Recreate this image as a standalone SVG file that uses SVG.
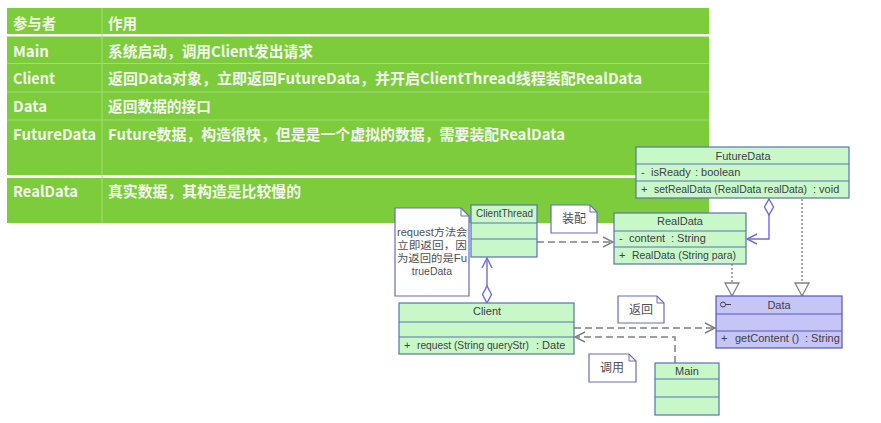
<svg xmlns="http://www.w3.org/2000/svg" width="881" height="423" viewBox="0 0 881 423">
<style>
.th{font-family:"Noto Sans CJK SC","Noto Sans",sans-serif;font-weight:bold;font-size:15px;fill:#f3f7ee}
.cls{fill:#c8f8c8;stroke:#5a72b0;stroke-width:1.2}
.ifc{fill:#c6c6f6;stroke:#5656c0;stroke-width:1.2}
.sep{stroke:#5a72b0;stroke-width:1.2}
.sepi{stroke:#5656c0;stroke-width:1.2}
.u{font-family:"Liberation Sans",Arial,sans-serif;font-size:11px;fill:#404048}
.n{font-family:"Noto Sans CJK SC","Liberation Sans",sans-serif;font-size:12px;fill:#505058}
.ns{font-family:"Liberation Sans","Noto Sans CJK SC",sans-serif;font-size:10.5px;fill:#505058}
.note{fill:#ffffff;stroke:#6a6ac0;stroke-width:1.2}
.dash{fill:none;stroke:#808080;stroke-width:1.5;stroke-dasharray:7 4}
.dot{fill:none;stroke:#808080;stroke-width:1.3;stroke-dasharray:2 2}
.agg{fill:none;stroke:#7468e0;stroke-width:1.4}
</style>
<defs>
<marker id="openG" viewBox="0 0 12 12" refX="11" refY="6" markerWidth="12" markerHeight="12" markerUnits="userSpaceOnUse" orient="auto">
<path d="M1,1 L11,6 L1,11" fill="none" stroke="#808080" stroke-width="1.4"/>
</marker>
<marker id="openP" viewBox="0 0 12 12" refX="11" refY="6" markerWidth="12" markerHeight="12" markerUnits="userSpaceOnUse" orient="auto">
<path d="M1,1 L11,6 L1,11" fill="none" stroke="#7468e0" stroke-width="1.4"/>
</marker>
</defs>
<rect width="881" height="423" fill="#ffffff"/>
<g id="table">
<rect x="7" y="8" width="702" height="215" fill="#7ccc3c"/>
<rect x="7" y="34" width="702" height="2.5" fill="#ffffff"/>
<rect x="7" y="175" width="702" height="3" fill="#ffffff"/>
<line x1="7" y1="63.5" x2="709" y2="63.5" stroke="#a4dc7a" stroke-width="1"/>
<line x1="7" y1="92" x2="709" y2="92" stroke="#a4dc7a" stroke-width="1"/>
<line x1="7" y1="120" x2="709" y2="120" stroke="#a4dc7a" stroke-width="1"/>
<line x1="102" y1="8" x2="102" y2="223" stroke="#a4dc7a" stroke-width="1"/>
<text class="th" x="13" y="29" textLength="43" lengthAdjust="spacingAndGlyphs">参与者</text>
<text class="th" x="108" y="29" textLength="29" lengthAdjust="spacingAndGlyphs">作用</text>
<text class="th" x="13" y="57" textLength="36" lengthAdjust="spacingAndGlyphs">Main</text>
<text class="th" x="108" y="57" textLength="205" lengthAdjust="spacingAndGlyphs">系统启动，调用Client发出请求</text>
<text class="th" x="13" y="84" textLength="42" lengthAdjust="spacingAndGlyphs">Client</text>
<text class="th" x="108" y="84" textLength="534" lengthAdjust="spacingAndGlyphs">返回Data对象，立即返回FutureData，并开启ClientThread线程装配RealData</text>
<text class="th" x="13" y="112" textLength="34" lengthAdjust="spacingAndGlyphs">Data</text>
<text class="th" x="108" y="112" textLength="103" lengthAdjust="spacingAndGlyphs">返回数据的接口</text>
<text class="th" x="13" y="140" textLength="83" lengthAdjust="spacingAndGlyphs">FutureData</text>
<text class="th" x="108" y="140" textLength="457" lengthAdjust="spacingAndGlyphs">Future数据，构造很快，但是是一个虚拟的数据，需要装配RealData</text>
<text class="th" x="13" y="197" textLength="65" lengthAdjust="spacingAndGlyphs">RealData</text>
<text class="th" x="108" y="197" textLength="193" lengthAdjust="spacingAndGlyphs">真实数据，其构造是比较慢的</text>
</g>
<g id="connectors">
<path class="dash" d="M537,242 H613" marker-end="url(#openG)"/>
<path class="dash" d="M574,328 H715" marker-end="url(#openG)"/>
<path class="dash" d="M675,363 V337 H575" marker-end="url(#openG)"/>
<path class="dot" d="M732,264 V283"/>
<path d="M725,283 L739,283 L732,296 Z" fill="#ffffff" stroke="#808080" stroke-width="1.3"/>
<path class="dot" d="M802,199 V283"/>
<path d="M795,283 L809,283 L802,296 Z" fill="#ffffff" stroke="#808080" stroke-width="1.3"/>
<path d="M769,199 L773.5,207 L769,215 L764.5,207 Z" fill="#ffffff" stroke="#7468e0" stroke-width="1.4"/>
<path class="agg" d="M769,215 V239 H747" marker-end="url(#openP)"/>
<path d="M487,303 L491.5,294.5 L487,286 L482.5,294.5 Z" fill="#ffffff" stroke="#7468e0" stroke-width="1.4"/>
<path class="agg" d="M487,286 V258" marker-end="url(#openP)"/>
</g>
<g id="FutureData">
<rect class="cls" x="636" y="147" width="213" height="51"/>
<line class="sep" x1="636" y1="164" x2="849" y2="164"/>
<line class="sep" x1="636" y1="181" x2="849" y2="181"/>
<text class="u" x="743" y="160" text-anchor="middle">FutureData</text>
<text class="u" x="641" y="176">-</text>
<text class="u" x="651" y="176">isReady</text>
<text class="u" x="695" y="176">: boolean</text>
<text class="u" x="641" y="193">+</text>
<text class="u" x="654" y="193" textLength="153" lengthAdjust="spacingAndGlyphs">setRealData (RealData realData)</text>
<text class="u" x="813" y="193">: void</text>
</g>
<g id="RealData">
<rect class="cls" x="614" y="213" width="132" height="51"/>
<line class="sep" x1="614" y1="231" x2="746" y2="231"/>
<line class="sep" x1="614" y1="247" x2="746" y2="247"/>
<text class="u" x="680" y="225" text-anchor="middle">RealData</text>
<text class="u" x="619" y="242">-</text>
<text class="u" x="629" y="242">content</text>
<text class="u" x="671" y="242">: String</text>
<text class="u" x="619" y="259">+</text>
<text class="u" x="632" y="259" textLength="104" lengthAdjust="spacingAndGlyphs">RealData (String para)</text>
</g>
<g id="Data">
<rect class="ifc" x="716" y="296" width="126" height="52"/>
<line class="sepi" x1="716" y1="314" x2="842" y2="314"/>
<line class="sepi" x1="716" y1="331" x2="842" y2="331"/>
<circle cx="723" cy="304.5" r="2.5" fill="none" stroke="#404048" stroke-width="1"/>
<line x1="725.5" y1="304.5" x2="731" y2="304.5" stroke="#404048" stroke-width="1"/>
<text class="u" x="779" y="309" text-anchor="middle">Data</text>
<text class="u" x="721" y="342">+</text>
<text class="u" x="735" y="342">getContent ()</text>
<text class="u" x="805" y="342">: String</text>
</g>
<g id="ClientThread">
<rect class="cls" x="471" y="205" width="66" height="52"/>
<line class="sep" x1="471" y1="223" x2="537" y2="223"/>
<line class="sep" x1="471" y1="239" x2="537" y2="239"/>
<text class="u" x="476" y="217" textLength="57" lengthAdjust="spacingAndGlyphs">ClientThread</text>
</g>
<g id="Client">
<rect class="cls" x="399" y="303" width="175" height="51"/>
<line class="sep" x1="399" y1="322" x2="574" y2="322"/>
<line class="sep" x1="399" y1="337" x2="574" y2="337"/>
<text class="u" x="487" y="315" text-anchor="middle">Client</text>
<text class="u" x="404" y="349">+</text>
<text class="u" x="417" y="349" textLength="112" lengthAdjust="spacingAndGlyphs">request (String queryStr)</text>
<text class="u" x="536" y="349">: Date</text>
</g>
<g id="Main">
<rect class="cls" x="655" y="363" width="64" height="52"/>
<line class="sep" x1="655" y1="379" x2="719" y2="379"/>
<line class="sep" x1="655" y1="397" x2="719" y2="397"/>
<text class="u" x="687" y="375" text-anchor="middle">Main</text>
</g>
<g id="note-request">
<path class="note" d="M395,208 H461 L469,216 V296 H395 Z"/>
<path d="M461,208 V216 H469" fill="none" stroke="#6a6ac0" stroke-width="1"/>
<text class="ns" x="397" y="236" textLength="70" lengthAdjust="spacingAndGlyphs">request方法会</text>
<text class="ns" x="397" y="249" textLength="70" lengthAdjust="spacingAndGlyphs">立即返回，因</text>
<text class="ns" x="397" y="262" textLength="70" lengthAdjust="spacingAndGlyphs">为返回的是Fu</text>
<text class="ns" x="432" y="275" text-anchor="middle">trueData</text>
</g>
<g id="note-assemble">
<path class="note" d="M551,205 H590 L597,212 V233 H551 Z"/>
<path d="M590,205 V212 H597" fill="none" stroke="#6a6ac0" stroke-width="1"/>
<text class="n" x="574" y="223" text-anchor="middle">装配</text>
</g>
<g id="note-return">
<path class="note" d="M618,296 H657 L664,303 V323 H618 Z"/>
<path d="M657,296 V303 H664" fill="none" stroke="#6a6ac0" stroke-width="1"/>
<text class="n" x="641" y="314" text-anchor="middle">返回</text>
</g>
<g id="note-call">
<path class="note" d="M589,354 H629 L636,361 V382 H589 Z"/>
<path d="M629,354 V361 H636" fill="none" stroke="#6a6ac0" stroke-width="1"/>
<text class="n" x="612" y="372" text-anchor="middle">调用</text>
</g>
</svg>
